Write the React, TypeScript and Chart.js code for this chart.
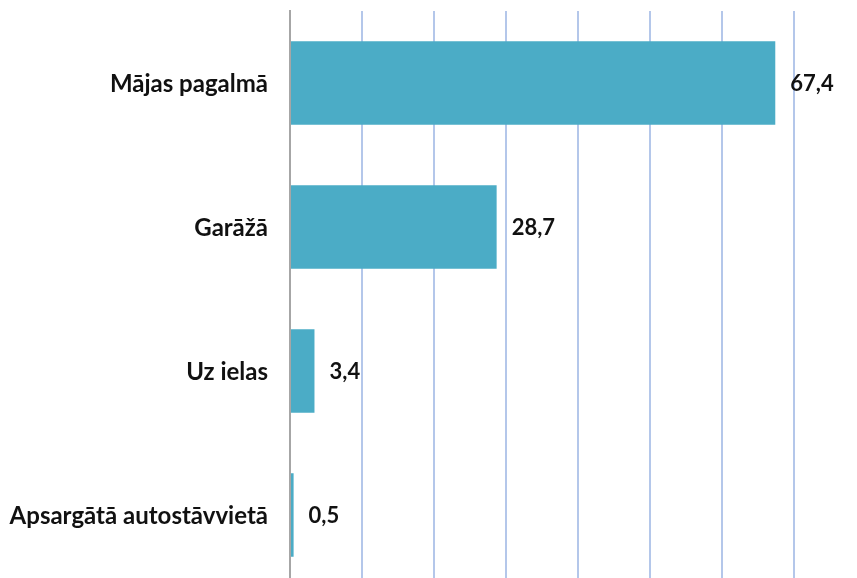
import React, { useEffect, useRef } from "react";
import { Chart, registerables } from "chart.js";

Chart.register(...registerables);

const categories = ["Mājas pagalmā", "Garāžā", "Uz ielas", "Apsargātā autostāvvietā"];
const values = [67.4, 28.7, 3.4, 0.5];
const xMax = 70;
const xStep = 10;

const FONT = "Lato, 'Open Sans', sans-serif";

const textLabels = {
  id: "textLabels",
  afterDatasetsDraw(chart: any) {
    const ctx = chart.ctx;
    const meta = chart.getDatasetMeta(0);
    const yScale = chart.scales.y;
    ctx.save();
    ctx.fillStyle = "#111111";
    ctx.textBaseline = "middle";
    // category labels
    ctx.font = `bold 24px ${FONT}`;
    ctx.textAlign = "right";
    categories.forEach((c, i) => {
      ctx.fillText(c, yScale.right - 22, yScale.getPixelForTick(i) + 1);
    });
    // value labels
    ctx.font = `bold 22px ${FONT}`;
    ctx.textAlign = "left";
    meta.data.forEach((bar: any, i: number) => {
      const txt = values[i].toFixed(1).replace(".", ",");
      ctx.fillText(txt, bar.x + 15, bar.y + 1);
    });
    ctx.restore();
  },
};

export default function App() {
  const ref = useRef<HTMLCanvasElement | null>(null);
  useEffect(() => {
    if (!ref.current) return;
    const chart = new Chart(ref.current, {
      type: "bar",
      data: {
        labels: categories,
        datasets: [
          {
            data: values,
            backgroundColor: "#4bacc6",
            borderWidth: 0,
            barPercentage: 0.58,
            categoryPercentage: 1,
          },
        ],
      },
      options: {
        indexAxis: "y",
        animation: false,
        responsive: true,
        maintainAspectRatio: false,
        layout: { padding: { top: 11, right: 63, bottom: 13, left: 0 } },
        plugins: {
          legend: { display: false },
          tooltip: { enabled: false },
        },
        scales: {
          x: {
            min: 0,
            max: xMax,
            ticks: { display: false, stepSize: xStep },
            border: { display: false },
            grid: {
              drawTicks: false,
              lineWidth: 2,
              color: (c: any) => (c.tick && c.tick.value === 0 ? "#a6a6a6" : "#b4c7ea"),
            },
            afterFit: (s: any) => {
              s.height = 0;
            },
          },
          y: {
            grid: { display: false, drawTicks: false },
            border: { display: true, color: "#a6a6a6", width: 2 },
            ticks: { display: false },
            afterFit: (s: any) => {
              s.width = 290;
            },
          },
        },
      },
      plugins: [textLabels],
    });
    return () => chart.destroy();
  }, []);
  return (
    <div style={{ position: "absolute", left: 0, top: 0, width: 857, height: 578, overflow: "hidden", background: "#fff" }}>
      <div style={{ position: "relative", width: 857, height: 600 }}>
        <canvas ref={ref} />
      </div>
    </div>
  );
}
